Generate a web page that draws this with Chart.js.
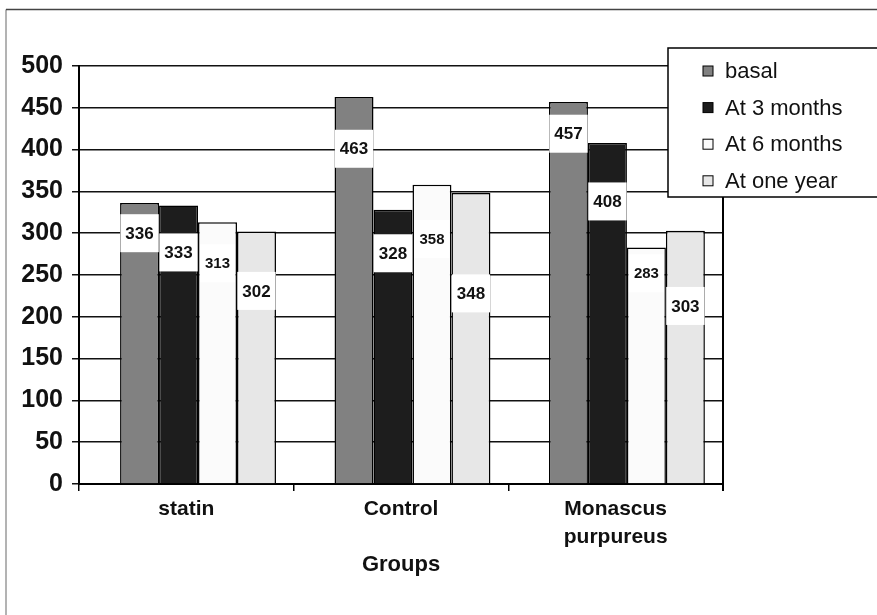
<!DOCTYPE html>
<html>
<head>
<meta charset="utf-8">
<script src="https://cdn.jsdelivr.net/npm/chart.js@4/dist/chart.umd.min.js"></script>
<style>
  html, body { margin: 0; padding: 0; background: #fff; }
  #wrap { position: relative; width: 877px; height: 615px; }
</style>
</head>
<body>
<div id="wrap"><canvas id="c" width="877" height="615"></canvas></div>
<script>
// Groups and series values
const categories = ['statin', 'Control', 'Monascus purpureus'];
const seriesNames = ['basal', 'At 3 months', 'At 6 months', 'At one year'];
const basal    = [336, 463, 457];
const month3   = [333, 328, 408];
const month6   = [313, 358, 283];
const oneYear  = [302, 348, 303];
const yMin = 0, yMax = 500, yStep = 50;

// Where each value label box sits on the value axis
const labelAnchor = [
  [300, 401, 419],
  [277, 276, 338],
  [264, 293, 252],
  [231, 228, 213]
];

const seriesValues = [basal, month3, month6, oneYear];
const fills = ['#818181', '#1d1d1d', '#fbfbfb', '#e7e7e7'];
const labelFont = ['bold 17px "Liberation Sans", Arial, sans-serif',
                   'bold 17px "Liberation Sans", Arial, sans-serif',
                   'bold 15px "Liberation Sans", Arial, sans-serif',
                   'bold 17px "Liberation Sans", Arial, sans-serif'];

const datasets = seriesValues.map((vals, i) => ({
  label: seriesNames[i],
  data: vals.map((v, j) => ({ x: j, y: v })),
  xAxisID: 'xb',
  yAxisID: 'y',
  backgroundColor: fills[i],
  borderColor: '#000',
  borderWidth: 1.5,
  borderSkipped: 'bottom',
  categoryPercentage: 0.727,
  barPercentage: 1.0
}));

// Page frame, plot right edge, value labels and legend
const decorations = {
  id: 'decorations',
  beforeDraw(chart) {
    const ctx = chart.ctx;
    ctx.save();
    ctx.fillStyle = '#fff';
    ctx.fillRect(0, 0, chart.width, chart.height);
    ctx.lineWidth = 1.5;
    ctx.strokeStyle = '#9a9a9a';
    ctx.beginPath();
    ctx.moveTo(6, chart.height);
    ctx.lineTo(6, 9.5);
    ctx.stroke();
    ctx.strokeStyle = '#444';
    ctx.beginPath();
    ctx.moveTo(6, 9.5);
    ctx.lineTo(chart.width, 9.5);
    ctx.stroke();
    ctx.restore();
  },
  afterDatasetsDraw(chart) {
    const ctx = chart.ctx;
    const ca = chart.chartArea;
    const y = chart.scales.y;
    ctx.save();
    // right edge of the plot
    ctx.strokeStyle = '#000';
    ctx.lineWidth = 2;
    ctx.beginPath();
    ctx.moveTo(ca.right, ca.top);
    ctx.lineTo(ca.right, ca.bottom + 7);
    ctx.stroke();
    // value labels in white boxes
    chart.data.datasets.forEach((ds, i) => {
      const meta = chart.getDatasetMeta(i);
      meta.data.forEach((bar, j) => {
        const txt = String(seriesValues[i][j]);
        ctx.font = labelFont[i];
        const w = ctx.measureText(txt).width + 10;
        const h = 38;
        const cy = y.getPixelForValue(labelAnchor[i][j]);
        ctx.fillStyle = '#fff';
        ctx.fillRect(bar.x - w / 2, cy - h / 2, w, h);
        ctx.fillStyle = '#111';
        ctx.textAlign = 'center';
        ctx.textBaseline = 'middle';
        ctx.fillText(txt, bar.x, cy + 1);
      });
    });
    ctx.restore();
  },
  afterDraw(chart) {
    const ctx = chart.ctx;
    ctx.save();
    const lx = 668, ly = 48, lw = 230, lh = 149;
    ctx.fillStyle = '#fff';
    ctx.fillRect(lx, ly, lw, lh);
    ctx.strokeStyle = '#000';
    ctx.lineWidth = 1.5;
    ctx.strokeRect(lx, ly, lw, lh);
    ctx.font = '22px "Liberation Sans", Arial, sans-serif';
    ctx.textAlign = 'left';
    ctx.textBaseline = 'middle';
    chart.data.datasets.forEach((ds, i) => {
      const cy = 71 + i * 36.6;
      ctx.fillStyle = ds.backgroundColor;
      ctx.fillRect(703, cy - 5, 10, 10);
      ctx.strokeStyle = '#000';
      ctx.lineWidth = 1;
      ctx.strokeRect(703, cy - 5, 10, 10);
      ctx.fillStyle = '#111';
      ctx.fillText(ds.label, 725, cy + 1);
    });
    ctx.restore();
  }
};

new Chart(document.getElementById('c'), {
  type: 'bar',
  data: { labels: categories, datasets },
  plugins: [decorations],
  options: {
    responsive: false,
    animation: false,
    events: [],
    layout: { padding: { top: 66, right: 154, bottom: 0, left: 0 } },
    plugins: { legend: { display: false }, tooltip: { enabled: false } },
    scales: {
      x: {
        type: 'category',
        position: 'bottom',
        offset: true,
        afterFit(scale) { scale.height = 131; },
        border: { display: true, color: '#000', width: 2 },
        grid: { offset: true, drawOnChartArea: false, drawTicks: true, tickLength: 7, color: '#000', lineWidth: 1.5 },
        ticks: {
          padding: 4,
          color: '#111',
          font: { family: '"Liberation Sans", Arial, sans-serif', size: 21, weight: 'bold', lineHeight: 1.33 },
          callback(value) { return this.getLabelForValue(value).split(' '); }
        },
        title: {
          display: true,
          text: 'Groups',
          color: '#111',
          font: { family: '"Liberation Sans", Arial, sans-serif', size: 22, weight: 'bold', lineHeight: 1.2 },
          padding: { top: 0, bottom: 37 }
        }
      },
      // bar placement axis: one unit per group, groups sit slightly right of the label centres
      xb: {
        type: 'linear',
        axis: 'x',
        position: 'bottom',
        display: false,
        offset: false,
        min: -0.555,
        max: 2.448,
        afterBuildTicks(scale) { scale.ticks = categories.map((_, i) => ({ value: i })); }
      },
      y: {
        type: 'linear',
        position: 'left',
        min: yMin,
        max: yMax,
        afterFit(scale) { scale.width = 79; },
        border: { display: true, color: '#000', width: 2 },
        grid: { color: '#111', lineWidth: 1.5, drawTicks: true, tickLength: 7 },
        ticks: {
          stepSize: yStep,
          padding: 9,
          color: '#111',
          font: { family: '"Liberation Sans", Arial, sans-serif', size: 25, weight: 'bold' }
        }
      }
    }
  }
});
</script>
</body>
</html>
